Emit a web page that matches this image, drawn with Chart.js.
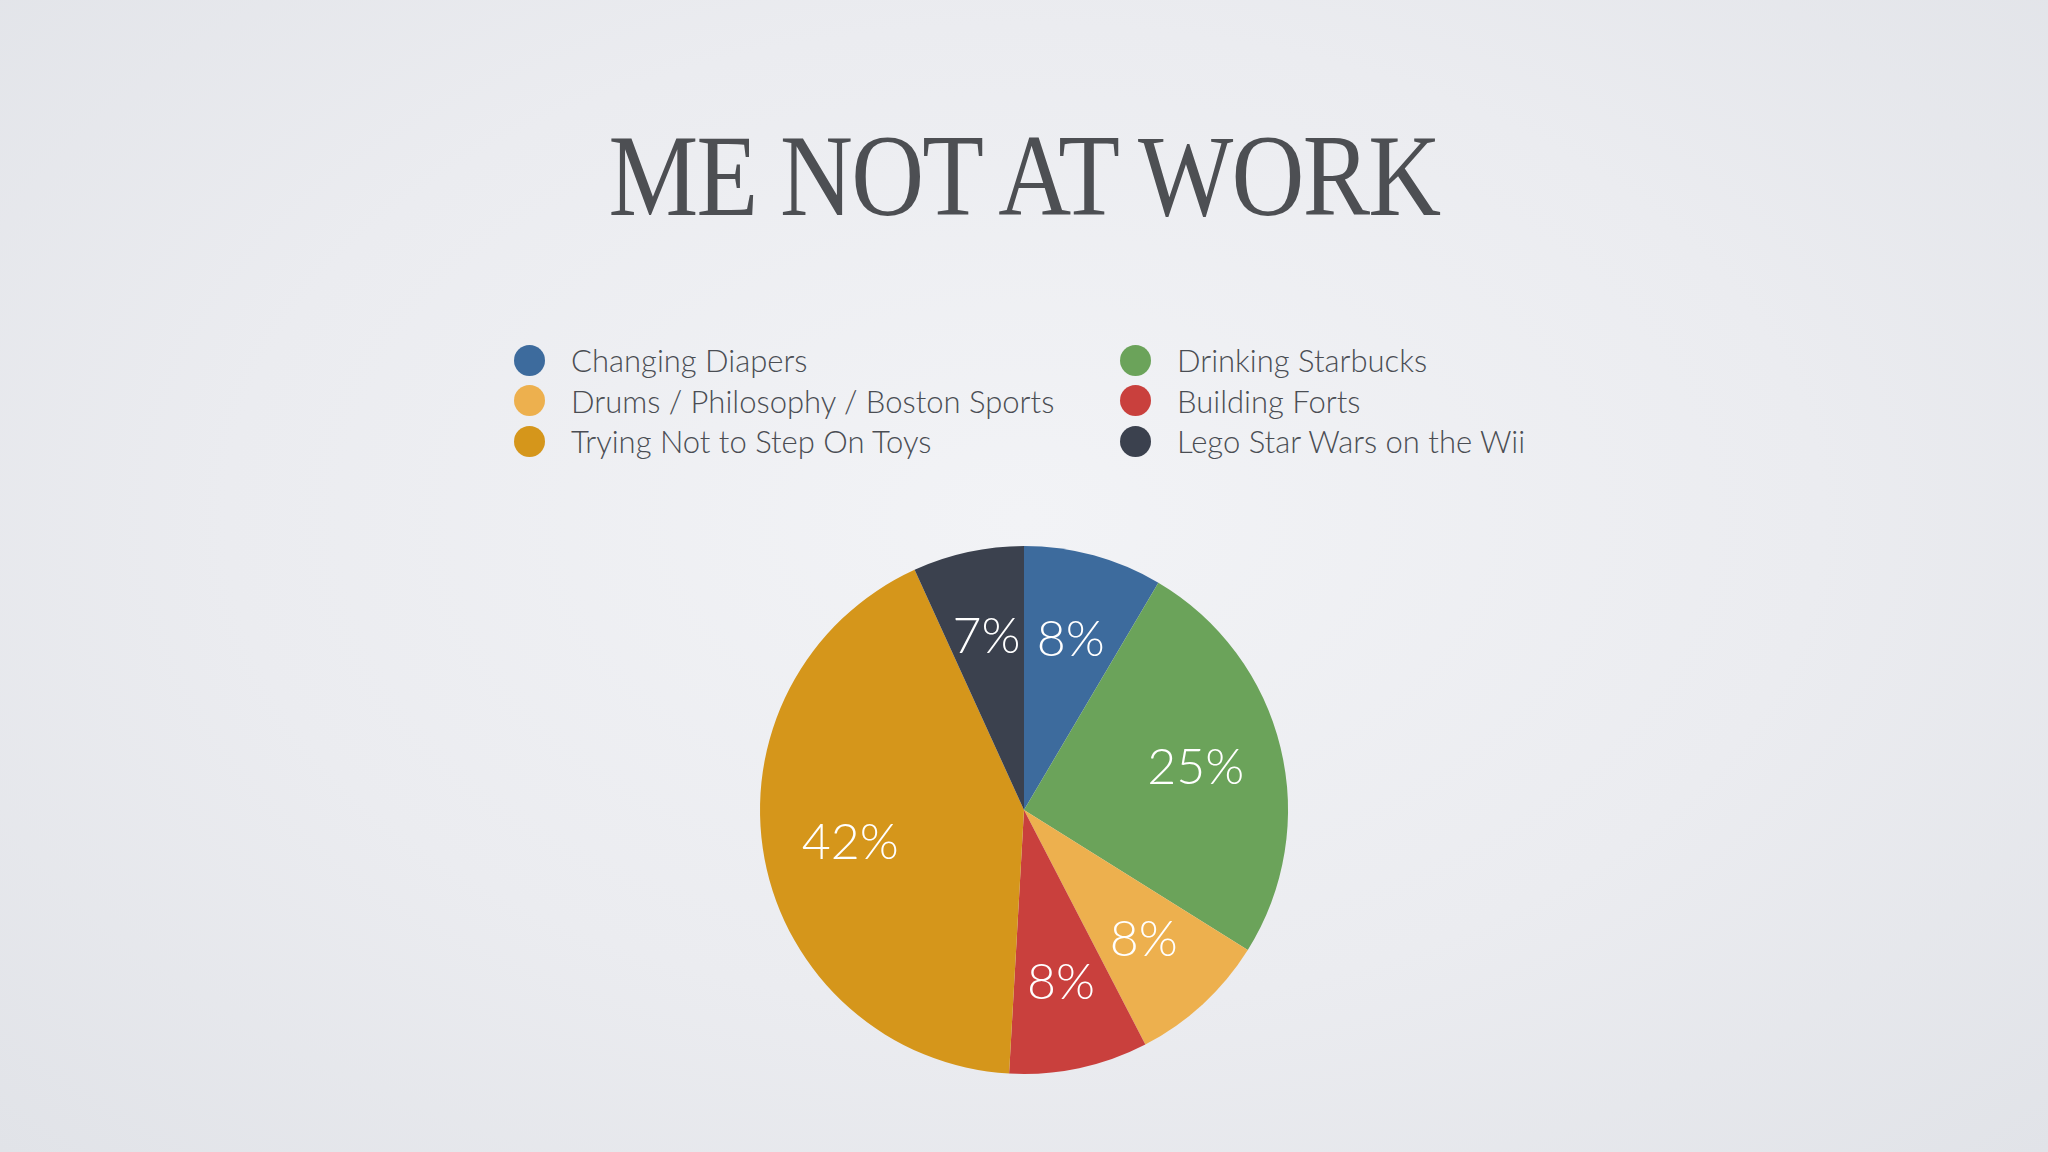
<!DOCTYPE html>
<html>
<head>
<meta charset="utf-8">
<script src="https://cdn.jsdelivr.net/npm/chart.js@4"></script>
<style>
  html, body { margin: 0; padding: 0; }
  body {
    width: 2048px; height: 1152px; overflow: hidden; position: relative;
    background: radial-gradient(ellipse at 50% 45%, #f2f3f6 0%, #ebecf0 55%, #e1e3e8 100%);
    font-family: "Lato", "Open Sans", sans-serif;
  }
  #title {
    position: absolute; left: 0; top: 110px; width: 2048px; text-align: center;
    font-family: "Liberation Serif", "DejaVu Serif", serif;
    font-size: 116px; color: #4d4f53; letter-spacing: -2px;
    transform: scaleX(0.87); transform-origin: 1024px 0;
  }
  #legend {
    position: absolute; top: 340px; left: 514px;
    display: grid; grid-template-columns: 606px auto; row-gap: 0;
  }
  .item { display: flex; align-items: center; height: 40.5px; font-size: 31px; font-weight: 300; color: #4a4d53; }
  .dot { width: 31px; height: 31px; border-radius: 50%; margin-right: 26px; flex: none; }
  #wrap { position: absolute; left: 0; top: 0; width: 2048px; height: 1152px; }
</style>
</head>
<body>
<div id="title">ME NOT AT WORK</div>
<div id="legend"></div>
<div id="wrap"><canvas id="pieChart"></canvas></div>
<script>
const categories = ["Changing Diapers", "Drinking Starbucks", "Drums / Philosophy / Boston Sports",
                    "Building Forts", "Trying Not to Step On Toys", "Lego Star Wars on the Wii"];
// slice sizes (percent of the circle)
const shares = [8.5, 25.4, 8.5, 8.5, 42.3, 6.8];
// labels printed on the slices
const shareLabels = ["8%", "25%", "8%", "8%", "42%", "7%"];
const colors = ["#3d6b9d", "#6ba35a", "#edb04e", "#c9403d", "#d5961b", "#3b414e"];

// two-column legend, filled row by row like the slide
const legend = document.getElementById("legend");
categories.forEach((c, i) => {
  const el = document.createElement("div");
  el.className = "item";
  el.innerHTML = `<span class="dot" style="background:${colors[i]}"></span>${c}`;
  legend.appendChild(el);
});

const sliceLabels = {
  id: "sliceLabels",
  afterDatasetsDraw(chart) {
    const ctx = chart.ctx;
    const meta = chart.getDatasetMeta(0);
    ctx.save();
    ctx.fillStyle = "#ffffff";
    ctx.font = "300 50px Lato, 'Open Sans', sans-serif";
    ctx.textAlign = "center";
    ctx.textBaseline = "middle";
    meta.data.forEach((arc, i) => {
      const p = arc.getProps(["x", "y", "startAngle", "endAngle", "outerRadius"], true);
      const mid = (p.startAngle + p.endAngle) / 2;
      const r = p.outerRadius * 0.67;
      ctx.fillText(shareLabels[i], p.x + Math.cos(mid) * r, p.y + Math.sin(mid) * r);
    });
    ctx.restore();
  }
};

new Chart(document.getElementById("pieChart").getContext("2d"), {
  type: "pie",
  data: {
    labels: categories,
    datasets: [{
      data: shares,
      backgroundColor: colors,
      borderWidth: 0
    }]
  },
  options: {
    responsive: true,
    maintainAspectRatio: false,
    animation: false,
    layout: { padding: { top: 546, bottom: 78, left: 0, right: 0 } },
    plugins: { legend: { display: false }, tooltip: { enabled: false } }
  },
  plugins: [sliceLabels]
});
</script>
</body>
</html>
